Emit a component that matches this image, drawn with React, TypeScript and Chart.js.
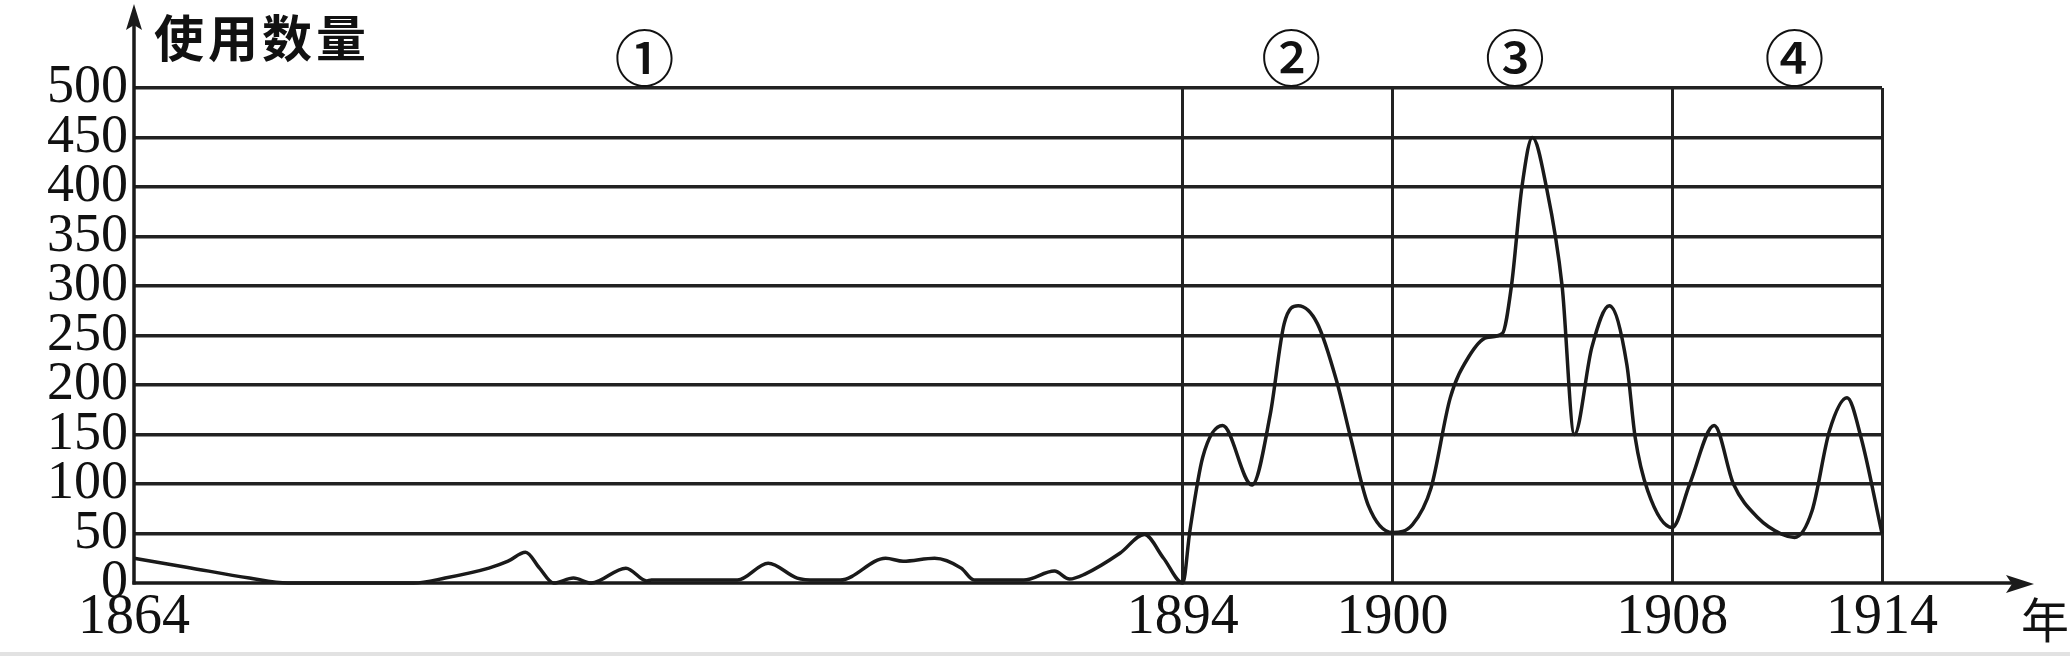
import { useEffect, useRef } from 'react';
import { Chart, registerables } from 'chart.js';

Chart.register(...registerables);

// ---- data ----
const years: number[] = [
  1864, 1865.5, 1867.3, 1868.4, 1872.0, 1872.9, 1874.15, 1874.7, 1875.2, 1875.6,
  1876.0, 1876.57, 1877.08, 1878.07, 1878.67, 1878.8, 1881.26, 1882.14, 1882.97, 1883.5,
  1884.2, 1885.5, 1886.0, 1886.9, 1887.66, 1888.03, 1889.45, 1890.33, 1890.76, 1891.2,
  1892.2, 1892.9, 1893.45, 1894.0,
  1894.2, 1894.57, 1895.14, 1895.98, 1896.5, 1896.9, 1897.3, 1897.85, 1898.4, 1898.8,
  1899.3, 1900.0,
  1900.57, 1901.1, 1901.65, 1902.17, 1902.7, 1903.14, 1903.4, 1903.7, 1904.0, 1904.4,
  1904.85, 1905.2, 1905.7, 1906.2, 1906.7, 1906.94, 1907.3, 1908.0,
  1908.5, 1909.2, 1909.75, 1910.45, 1911.15, 1911.5, 1912.0, 1912.5, 1913.0, 1913.4, 1914.0,
];
const counts: number[] = [
  25, 16, 5, 0, 0, 5, 15, 22, 31, 15,
  0, 5, 0, 15, 2, 3, 3, 20, 5, 3,
  3, 25, 22, 25, 15, 3, 3, 12, 4, 9,
  30, 49, 25, 0,
  52, 127, 159, 99, 170, 262, 280, 262, 204, 147,
  79, 51,
  59, 96, 187, 228, 248, 252, 300, 400, 450, 400,
  300, 150, 238, 280, 221, 147, 93, 56,
  100, 159, 100, 66, 49, 46, 73, 154, 187, 147, 50,
];
const yearTicks: number[] = [1864, 1894, 1900, 1908, 1914];
const countMin = 0;
const countMax = 500;
const countStep = 50;
const phaseLabels: string[] = ['①', '②', '③', '④'];
const phaseYears: number[] = [1878.6, 1897.1, 1903.5, 1911.5];
const yTitle = '使用数量';
const xTitle = '年';

const INK = '#1a1a1a';
const SERIF = '"Liberation Serif", "Times New Roman", serif';
const CJK = '"Noto Sans CJK SC", "Noto Sans CJK JP", sans-serif';

const decorPlugin = {
  id: 'decor',
  afterDraw(chart: any) {
    const ctx = chart.ctx as CanvasRenderingContext2D;
    const { left, bottom } = chart.chartArea;
    const xs = chart.scales.x;
    ctx.save();
    ctx.strokeStyle = INK;
    ctx.fillStyle = INK;
    ctx.lineWidth = 3.5;
    // y axis with arrow
    ctx.beginPath();
    ctx.moveTo(left, bottom + 1.5);
    ctx.lineTo(left, 20);
    ctx.stroke();
    ctx.beginPath();
    ctx.moveTo(left, 4);
    ctx.lineTo(left + 8, 30);
    ctx.lineTo(left, 25);
    ctx.lineTo(left - 8, 30);
    ctx.closePath();
    ctx.fill();
    // x axis with arrow
    const tipX = 2034;
    ctx.beginPath();
    ctx.moveTo(left - 1.5, bottom);
    ctx.lineTo(tipX - 14, bottom);
    ctx.stroke();
    ctx.beginPath();
    ctx.moveTo(tipX, bottom + 1);
    ctx.lineTo(tipX - 28, bottom - 8);
    ctx.lineTo(tipX - 22, bottom + 1);
    ctx.lineTo(tipX - 28, bottom + 10);
    ctx.closePath();
    ctx.fill();
    // titles
    ctx.fillStyle = '#111';
    ctx.textBaseline = 'middle';
    ctx.textAlign = 'left';
    ctx.font = `600 50px ${CJK}`;
    (ctx as any).letterSpacing = '4px';
    ctx.fillText(yTitle, 154, 38);
    (ctx as any).letterSpacing = '0px';
    ctx.textAlign = 'center';
    ctx.font = `400 48px ${CJK}`;
    ctx.fillText(xTitle, 2045, 620);
    // phase labels
    ctx.font = `500 60px ${CJK}`;
    phaseLabels.forEach((lab, i) => {
      ctx.fillText(lab, xs.getPixelForValue(phaseYears[i]), 58);
    });
    // faint page edge at bottom
    ctx.fillStyle = '#e2e2e2';
    ctx.fillRect(0, 652, 2070, 4);
    ctx.restore();
  },
};

export default function App() {
  const ref = useRef<HTMLCanvasElement | null>(null);
  useEffect(() => {
    document.body.style.margin = '0';
    const canvas = ref.current;
    if (!canvas) return;
    const chart = new Chart(canvas, {
      type: 'line',
      data: {
        datasets: [
          {
            data: years.map((y, i) => ({ x: y, y: counts[i] })),
            borderColor: INK,
            borderWidth: 3.5,
            pointRadius: 0,
            fill: false,
            cubicInterpolationMode: 'monotone',
            clip: 6,
          } as any,
        ],
      },
      options: {
        responsive: false,
        animation: false,
        events: [],
        layout: { padding: { top: 88, right: 188, left: 0, bottom: 0 } },
        plugins: { legend: { display: false }, tooltip: { enabled: false }, title: { display: false } },
        scales: {
          x: {
            type: 'linear',
            min: yearTicks[0],
            max: yearTicks[yearTicks.length - 1],
            afterBuildTicks: (scale: any) => {
              scale.ticks = yearTicks.map((v) => ({ value: v }));
            },
            afterFit: (scale: any) => {
              scale.height = 75;
            },
            border: { display: false },
            grid: {
              drawTicks: false,
              lineWidth: 3,
              color: (c: any) => (c.tick && c.tick.value === yearTicks[0] ? 'rgba(0,0,0,0)' : '#222'),
            },
            ticks: {
              padding: 2,
              color: '#111',
              font: { family: SERIF, size: 56 },
              callback: (v: any) => String(v),
              maxRotation: 0,
              autoSkip: false,
            },
          },
          y: {
            type: 'linear',
            min: countMin,
            max: countMax,
            afterFit: (scale: any) => {
              scale.width = 134;
            },
            border: { display: false },
            grid: {
              drawTicks: false,
              lineWidth: 3.5,
              color: (c: any) => (c.tick && c.tick.value === countMin ? 'rgba(0,0,0,0)' : '#222'),
            },
            ticks: {
              stepSize: countStep,
              autoSkip: false,
              padding: 6,
              color: '#111',
              font: { family: SERIF, size: 54 },
            },
          },
        },
      },
      plugins: [decorPlugin],
    });
    return () => chart.destroy();
  }, []);
  return (
    <div style={{ position: 'absolute', left: 0, top: 0, width: 2070, height: 658, background: '#fff' }}>
      <canvas ref={ref} width={2070} height={658} />
    </div>
  );
}
